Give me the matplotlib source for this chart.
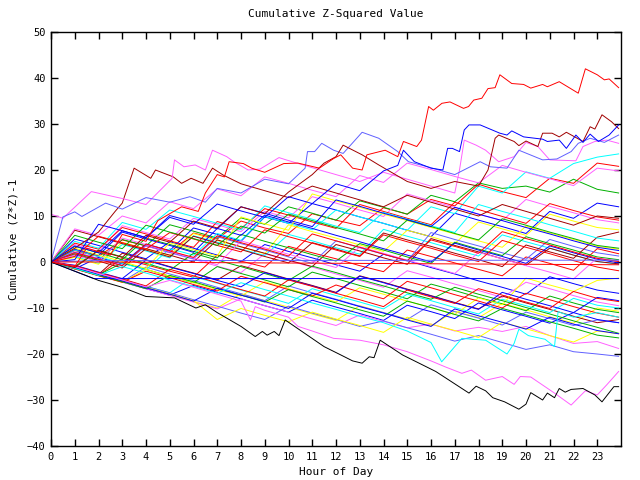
import matplotlib
matplotlib.use("Agg")
import matplotlib.pyplot as plt

# hourly sample grid used by the bulk of the runs
hours = list(range(24)) + [23.9]

red_runs = [
    [0, 2.5, 1.2, 4.8, 3.5, 2.1, 6.3, 5.0, 8.9, 7.4, 6.2, 10.5, 9.1, 7.9, 11.8, 10.4, 13.6, 12.2, 16.9, 15.3, 14.0, 18.2, 17.1, 21.5, 20.8],
    [0, -1.4, -2.9, 0.8, -0.6, -2.0, -3.3, 1.5, 0.2, -1.1, 3.4, 2.0, 0.7, -0.8, -2.1, 2.6, 1.2, -0.2, -1.6, -3.0, 1.1, -0.3, -1.8, 2.9, 1.8],
    [0, 4.1, 2.8, 7.5, 6.1, 4.6, 3.2, 8.8, 7.3, 11.6, 10.2, 8.7, 7.3, 12.5, 11.0, 9.5, 8.1, 13.0, 11.4, 9.9, 8.4, 12.7, 11.2, 9.8, 9.1],
    [0, -1.5, -3.0, -4.4, -2.0, -3.4, -4.9, -6.3, -3.1, -4.5, -6.0, -7.4, -5.0, -6.5, -8.0, -4.2, -5.6, -7.1, -8.5, -10.0, -6.8, -8.2, -9.7, -11.1, -12.0],
    [0, 1.2, 5.6, 4.2, 2.8, 6.4, 5.0, 3.6, 2.2, 7.0, 5.5, 4.1, 2.6, 1.2, 5.9, 4.4, 3.0, 1.5, 0.1, 4.7, 3.2, 1.8, 0.3, -1.1, -1.9],
    [0, -0.8, -2.3, -3.7, -5.2, -1.6, -3.0, -4.5, -6.0, -7.4, -3.9, -5.3, -6.8, -8.2, -9.7, -6.1, -7.6, -9.0, -5.8, -7.2, -8.7, -10.1, -6.4, -7.9, -8.6],
    [0, 2.0, 0.6, -0.8, 3.9, 2.4, 1.0, 5.7, 4.2, 2.8, 1.3, 6.1, 4.6, 3.2, 1.7, 0.3, 4.8, 3.4, 1.9, 6.6, 5.1, 3.7, 2.2, 0.8, 0.1],
]
green_runs = [
    [0, 1.8, 0.4, 4.9, 3.5, 8.1, 6.7, 5.2, 9.6, 8.2, 12.0, 10.6, 9.1, 13.3, 11.9, 10.4, 14.5, 13.1, 17.2, 16.0, 16.5, 15.2, 18.0, 15.8, 15.0],
    [0, -1.3, -2.8, -0.2, -1.6, -3.1, -4.5, -1.0, -2.5, -3.9, -5.4, -2.2, -3.6, -5.1, -6.5, -8.0, -4.8, -6.2, -7.7, -9.1, -10.6, -7.4, -8.9, -10.3, -11.0],
    [0, 3.4, 2.0, 0.5, 5.2, 3.8, 2.3, 0.9, 6.0, 4.5, 3.1, 1.6, 0.2, 4.0, 2.6, 1.1, -0.3, 4.3, 2.8, 1.4, 5.5, 4.0, 2.6, 1.1, 0.5],
    [0, -1.0, 2.6, 1.1, -0.3, -1.8, 1.9, 0.4, -1.0, -2.5, -4.0, -0.9, -2.3, -3.8, -5.2, -6.7, -8.1, -5.5, -7.0, -8.4, -9.9, -11.3, -12.8, -14.2, -15.5],
    [0, 5.8, 4.3, 2.9, 8.0, 6.5, 5.1, 3.6, 7.8, 6.3, 10.4, 9.0, 7.5, 6.1, 4.6, 9.1, 7.7, 6.2, 4.8, 9.4, 8.0, 6.5, 5.1, 3.6, 3.0],
    [0, -1.4, -2.9, -4.3, -5.8, -2.9, -4.3, -5.8, -7.2, -8.7, -6.0, -7.5, -8.9, -10.4, -11.8, -8.5, -9.9, -11.4, -12.8, -10.1, -11.5, -13.0, -14.4, -15.9, -16.5],
]
blue_runs = [
    [0, 5.0, 3.6, 2.1, 0.7, 4.4, 3.0, 1.5, 0.1, 3.8, 2.3, 0.9, -0.6, -2.0, 1.7, 0.3, -1.2, -2.6, -4.1, -5.5, -7.0, -3.2, -4.7, -6.1, -6.8],
    [0, -1.5, 1.0, -0.4, 3.9, 2.5, 7.4, 6.0, 4.5, 9.8, 8.4, 12.7, 11.3, 9.8, 8.4, 6.9, 5.5, 10.6, 9.1, 7.7, 6.2, 11.0, 9.5, 12.8, 12.0],
    [0, -1.4, -2.9, -4.3, -5.8, -7.2, -5.1, -6.6, -8.0, -9.5, -10.9, -8.3, -9.8, -11.2, -12.7, -9.4, -10.8, -12.3, -8.9, -10.4, -11.8, -13.3, -11.0, -12.5, -13.2],
    [0, 2.8, 1.4, 6.5, 5.0, 3.6, 2.1, 7.3, 5.8, 10.2, 8.7, 7.3, 5.8, 4.4, 2.9, 1.5, 0.0, 4.1, 2.6, 1.2, -0.3, 3.5, 2.0, 0.6, -0.2],
    [0, -0.7, -2.2, -3.6, 0.4, -1.1, -2.5, -4.0, -5.4, -2.3, -3.8, -5.2, -6.7, -3.1, -4.5, -6.0, -7.4, -8.9, -10.3, -6.6, -8.1, -9.5, -11.0, -7.7, -8.4],
    [0, 0.5, 8.2, 6.8, 5.3, 10.1, 8.7, 7.2, 12.0, 10.6, 9.1, 7.7, 13.5, 12.1, 10.6, 9.2, 7.7, 11.9, 10.4, 9.0, 7.5, 6.1, 4.6, 3.2, 2.5],
    [0, -1.2, -2.7, -4.1, -5.6, -7.0, -8.5, -5.7, -7.2, -8.6, -10.1, -6.8, -8.2, -9.7, -11.1, -12.6, -14.0, -10.2, -11.7, -13.1, -14.6, -12.0, -13.5, -14.9, -15.6],
]
pink_runs = [
    [0, 2.2, 0.8, -0.7, 3.5, 2.0, 0.6, -0.9, -2.3, 1.8, 0.3, -1.1, -2.6, -4.0, -5.5, -1.9, -3.3, -4.8, -6.2, -7.7, -4.4, -5.8, -7.3, -8.7, -9.5],
    [0, 3.8, 2.3, 7.9, 6.4, 5.0, 9.5, 8.1, 6.6, 11.0, 9.6, 14.2, 12.8, 11.3, 9.9, 14.8, 13.3, 11.9, 10.4, 9.0, 13.6, 12.1, 10.7, 9.2, 8.5],
    [0, -1.5, -2.9, -4.4, -5.8, -7.3, -8.7, -10.2, -8.0, -9.5, -10.9, -12.4, -13.8, -11.5, -12.9, -14.3, -13.5, -15.0, -14.2, -15.1, -14.0, -16.0, -17.7, -17.3, -18.8],
    [0, 1.5, 0.1, 5.2, 3.8, 2.3, 0.9, -0.6, 4.6, 3.1, 1.7, 0.2, -1.2, 3.3, 1.9, 0.4, -1.0, -2.5, 2.1, 0.7, -0.8, -2.2, -3.7, 0.9, 0.2],
    [0, 7.2, 5.8, 10.0, 8.5, 13.1, 11.6, 15.9, 14.4, 18.5, 17.1, 15.6, 14.2, 18.8, 17.3, 21.5, 20.1, 18.6, 17.2, 21.0, 19.5, 18.1, 16.6, 20.4, 19.8],
]
cyan_runs = [
    [0, 1.2, -0.3, 3.8, 2.4, 0.9, 5.7, 4.3, 2.8, 1.4, 6.0, 4.6, 3.1, 1.7, 7.1, 5.6, 4.2, 2.7, 1.3, 5.9, 4.4, 3.0, 1.5, 0.1, -0.5],
    [0, 2.6, 1.2, -0.3, -1.7, 2.9, 1.5, 6.2, 4.7, 9.9, 8.4, 7.0, 11.3, 9.8, 8.4, 6.9, 12.0, 10.5, 16.5, 15.0, 19.6, 18.2, 21.4, 22.8, 23.5],
    [0, -0.9, -2.4, -3.8, -5.3, -6.7, -3.2, -4.6, -6.1, -7.5, -9.0, -5.8, -7.3, -8.7, -10.2, -7.0, -8.4, -9.9, -11.3, -8.1, -9.5, -11.0, -7.9, -9.4, -10.0],
    [0, 4.5, 3.0, 8.6, 7.1, 11.3, 9.9, 8.4, 7.0, 12.2, 10.7, 9.3, 7.8, 6.4, 10.8, 9.3, 7.9, 6.4, 12.5, 11.0, 9.6, 8.1, 6.7, 5.2, 4.6],
]
yellow_runs = [
    [0, -1.3, -2.8, -4.2, -5.7, -7.1, -8.6, -10.0, -6.9, -8.4, -9.8, -11.3, -12.7, -9.5, -11.0, -12.4, -13.9, -10.7, -12.1, -9.0, -10.4, -11.9, -13.3, -10.0, -10.7],
    [0, 1.0, -0.5, 4.3, 2.8, 1.4, 6.2, 4.7, 3.3, 1.8, 8.1, 6.6, 5.2, 3.7, 2.3, 6.9, 5.5, 4.0, 8.7, 7.2, 5.8, 10.4, 8.9, 7.5, 7.0],
    [0, -1.5, -2.9, -4.4, -1.6, -3.1, -4.5, -6.0, -7.4, -4.3, -5.8, -7.2, -8.7, -5.6, -7.0, -8.5, -9.9, -11.4, -7.8, -9.3, -3.5, -5.0, -6.4, -4.0, -3.5],
    [0, 3.0, 1.5, 0.1, -1.4, 4.2, 2.7, 1.3, 9.8, 8.3, 6.9, 14.8, 13.3, 11.9, 10.4, 9.0, 7.5, 6.1, 4.6, 3.2, 7.8, 6.3, 4.9, 3.4, 2.8],
    [0, -1.1, -2.6, -4.0, -5.5, -6.9, -8.4, -12.5, -10.1, -11.6, -13.0, -10.9, -12.4, -13.8, -15.3, -12.0, -13.5, -14.9, -16.4, -13.1, -14.5, -16.0, -17.4, -15.0, -15.6],
]
darkred_runs = [
    [0, -1.2, -2.7, 1.9, 0.5, -1.0, -2.4, -3.9, -0.8, -2.2, -3.7, -5.1, -6.6, -3.0, -4.4, -5.9, -7.3, -8.8, -10.2, -7.4, -8.9, -10.3, -11.8, -13.2, -12.5],
    [0, 1.6, 0.2, -1.3, 2.9, 1.5, 0.0, 4.8, 3.3, 1.9, 0.4, -1.0, 3.8, 2.4, 0.9, -0.5, 5.1, 3.6, 2.2, 0.7, -0.7, 3.0, 1.5, 0.1, -0.4],
    [0, 6.9, 5.5, 4.0, 2.6, 1.1, 5.6, 4.1, 2.7, 1.2, -0.2, 4.2, 2.8, 1.3, 6.3, 4.8, 3.4, 1.9, 0.5, -1.0, 3.7, 2.2, 0.8, 5.4, 6.5],
]
peri_runs = [
    [0, -1.4, -2.9, -4.3, -1.1, -2.6, -4.0, -5.5, -6.9, -8.4, -5.2, -6.7, -8.1, -9.6, -11.0, -12.5, -9.3, -10.8, -12.2, -13.7, -10.9, -12.3, -13.8, -12.6, -13.2],
    [0, 2.1, 0.7, -0.8, 3.6, 2.1, 0.7, 5.5, 4.0, 2.6, 1.1, -0.3, 4.6, 3.1, 1.7, 0.2, 6.4, 4.9, 3.5, 2.0, 0.6, 4.9, 3.4, 2.0, 1.3],
    [0, -0.9, -2.4, -3.8, -5.3, -6.7, -8.2, -9.6, -11.1, -12.5, -9.6, -11.1, -12.5, -14.0, -12.8, -14.3, -15.7, -17.2, -16.0, -17.5, -19.0, -18.0, -19.5, -20.0, -20.5],
]

# outlying runs read at their turning points
top_red_t = [0, 1, 1.5, 2.5, 3, 4, 4.5, 5.5, 6.2, 6.5, 7, 7.3, 7.5, 8.1, 8.45, 9.0, 9.8, 10.4, 11.3, 11.9, 12.2, 12.7, 13.1, 13.3, 14.07, 14.6,
             14.84, 15.4, 15.6, 15.9, 16.1, 16.46, 16.8, 17.37, 17.58, 17.8, 18.14, 18.4, 18.7, 18.9, 19.4, 19.9, 20.2, 20.7, 20.9, 21.4,
             22.2, 22.5, 23.0, 23.3, 23.5, 23.9]
top_red_v = [0, -1, 3, 1.5, 6, 4.5, 9, 12, 11, 15, 19, 18.5, 21.8, 21.4, 20.4, 19.5, 21.4, 21.5, 20.4, 22.5, 23.3, 20.4, 20.0, 23.3, 24.3, 22.9,
             26.2, 25.1, 26.5, 33.8, 33.0, 34.5, 34.8, 33.4, 33.8, 35.2, 35.6, 37.7, 37.9, 40.7, 38.8, 38.6, 37.8, 38.6, 38.1, 39.2,
             36.7, 42.0, 40.7, 39.6, 39.8, 37.9]
top_blue_t = [0, 1, 2, 3, 4, 5, 6, 7, 8, 9, 10, 11, 12, 13, 14, 14.6, 14.84, 15.3, 16.0, 16.5, 16.7, 16.9, 17.2, 17.4, 17.6, 18.07,
              18.9, 19.2, 19.4, 19.9, 20.7, 20.9, 21.4, 21.7, 22.1, 22.4, 22.7, 23.05, 23.5, 23.9]
top_blue_v = [0, 3.5, 2.0, 6.8, 5.3, 9.7, 8.2, 12.6, 11.1, 9.7, 14.2, 12.7, 17.0, 15.5, 19.8, 21.0, 24.3, 21.8, 20.4, 20.0, 24.7, 24.7,
              24.0, 28.7, 29.8, 29.8, 28.0, 27.6, 28.5, 27.2, 26.7, 26.2, 26.5, 24.7, 27.6, 26.0, 27.8, 26.2, 27.6, 29.8]
peri_top_t = [0, 0.5, 1, 1.3, 2.3, 3, 4, 5, 5.85, 6.5, 7, 8, 9, 10, 10.7, 10.8, 11.1, 11.4, 11.9, 12.3, 13.1, 13.8, 14.6, 15.05, 16,
              17, 18.07, 18.5, 19.2, 19.7, 20.7, 21.3, 21.9, 22.2, 22.7, 23.3, 23.9]
peri_top_v = [0, 9.8, 10.9, 9.9, 12.8, 11.5, 14.0, 13.0, 14.2, 13.0, 16.0, 15.0, 18.0, 17.0, 20.4, 24.0, 24.0, 25.8, 24.3, 23.6, 28.2,
              26.9, 24.0, 21.8, 20.5, 19.0, 21.8, 20.7, 20.4, 24.3, 22.2, 22.4, 24.0, 25.8, 26.9, 26.0, 27.6]
pink_top_t = [0, 0.5, 1.7, 3.0, 4.0, 5.1, 5.2, 5.6, 6.07, 6.5, 6.8, 7.4, 7.7, 8.3, 8.8, 9.6, 9.9, 11, 12, 13, 14, 15, 16, 17, 17.2,
              17.4, 17.9, 18.3, 18.85, 19.5, 20.0, 20.5, 21.0, 22.1, 22.4, 22.9, 23.4, 23.9]
pink_top_v = [10.4, 9.5, 15.3, 13.8, 12.5, 18.2, 22.2, 20.7, 21.1, 20.0, 24.3, 22.9, 21.8, 20.0, 20.2, 22.7, 22.2, 20.5, 19.0, 17.5,
              19.5, 18.0, 16.5, 15.0, 20.0, 26.5, 25.4, 24.3, 21.8, 22.9, 26.0, 25.1, 22.2, 22.0, 25.1, 26.2, 26.5, 25.8]
darkred_top_t = [0, 1, 2, 3, 4, 5, 6, 7, 8, 9, 10, 11, 11.5, 12.0, 12.3, 13.1, 13.8, 14.5, 15, 16, 17, 18, 18.4, 18.7, 18.85, 19.5,
                 19.7, 20.0, 20.5, 20.7, 21.1, 21.4, 21.7, 22.4, 22.7, 22.9, 23.2, 23.6, 23.9]
darkred_top_v = [0, -1.2, 2.5, 1.0, 5.8, 4.3, 8.9, 7.4, 12.0, 10.5, 15.2, 19.0, 21.5, 22.9, 25.4, 23.3, 21.1, 19.0, 17.5, 16.0, 17.5,
                 16.5, 20.0, 26.9, 27.6, 26.2, 25.3, 26.3, 25.1, 28.0, 28.0, 27.2, 28.2, 26.2, 29.4, 28.9, 32.0, 30.5, 29.0]
darkred_peak_t = [0, 1, 2, 2.7, 3.0, 3.5, 4.2, 4.4, 5.15, 5.5, 5.9, 6.4, 6.8, 7.25, 8, 9, 10, 11, 12, 13, 14, 15, 16, 17, 18, 19,
                  20, 21, 22, 23, 23.9]
darkred_peak_v = [0, 3.0, 6.5, 11.0, 12.8, 20.4, 18.2, 20.0, 18.5, 17.1, 18.2, 17.1, 20.4, 18.9, 17.0, 15.5, 14.0, 16.5, 15.0, 13.5,
                  12.0, 14.5, 13.0, 11.5, 10.0, 12.5, 11.0, 9.5, 8.0, 10.0, 9.5]
cyan_low_t = [0, 1, 2, 3, 4, 5, 6, 7, 8, 9, 10, 11, 12, 13, 14, 15, 16, 16.45, 17.3, 18.3, 19.2, 19.5, 19.7, 20.1, 20.8, 21.2,
              21.35, 22, 23, 23.9]
cyan_low_v = [0, -1.4, -2.9, -1.0, -2.4, -3.9, -5.3, -6.8, -4.5, -6.0, -7.4, -8.9, -10.3, -11.8, -13.2, -15.0, -17.5, -21.7, -16.6,
              -17.0, -20.0, -17.7, -14.6, -16.0, -16.8, -18.4, -10.8, -12.0, -11.0, -12.0]
pink_low_t = [0, 1, 2, 3, 4, 5, 6, 7, 8, 8.4, 8.6, 9, 10, 10.4, 11, 11.9, 13, 14, 15, 16, 16.6, 17.3, 17.7, 18.3, 19.0, 19.5, 19.76,
              20.2, 21.2, 21.9, 22.5, 23.0, 23.4, 23.9]
pink_low_v = [0, -1.0, -2.5, -3.9, -5.4, -4.0, -5.5, -7.0, -8.5, -12.6, -9.7, -10.5, -12.0, -14.0, -15.0, -16.6, -17.0, -18.0,
              -19.5, -21.5, -22.8, -24.2, -23.5, -25.7, -24.9, -26.6, -24.9, -25.0, -28.5, -31.1, -28.0, -28.9, -26.7, -23.8]
black_t = [0, 1, 2, 3, 4, 5.2, 6.1, 6.5, 7, 8, 8.6, 8.9, 9.1, 9.4, 9.6, 9.86, 11.5, 12.2, 12.7, 13.1, 13.4, 13.6, 13.86, 14.8, 16.2,
           17.6, 17.9, 18.3, 18.6, 19.1, 19.7, 20.0, 20.2, 20.7, 20.9, 21.2, 21.4, 21.65, 21.9, 22.4, 22.9, 23.2, 23.7, 23.9]
black_v = [0, -2.0, -4.0, -5.5, -7.5, -7.8, -10.0, -9.3, -11.0, -14.0, -16.2, -15.1, -15.9, -15.1, -16.0, -12.6, -18.4, -20.2,
           -21.5, -22.0, -20.6, -20.8, -17.0, -20.2, -23.8, -28.5, -27.0, -28.0, -29.5, -30.4, -32.0, -30.9, -28.4, -30.0, -28.5,
           -29.5, -27.5, -28.3, -27.7, -27.5, -28.9, -30.4, -27.1, -27.1]

# near-flat runs
flat_t = [0, 1.8, 23.9]
flat_red = [0, 0.0, -0.6]
flat_peri = [0, 0.3, 0.4]
flat_blue = [0, -3.6, -3.6]

col = {
    "red": "#ff0000", "green": "#00b000", "blue": "#0000ff", "pink": "#ff60ff",
    "cyan": "#00ffff", "yellow": "#ffff00", "darkred": "#a00000", "peri": "#6060ff",
    "black": "#000000",
}

fig = plt.figure(figsize=(6.4, 4.8), dpi=100)
ax = fig.add_axes([51 / 640, 1 - 446 / 480, 570 / 640, 414 / 480])

groups = [("red", red_runs), ("green", green_runs), ("blue", blue_runs), ("pink", pink_runs),
          ("cyan", cyan_runs), ("yellow", yellow_runs), ("darkred", darkred_runs), ("peri", peri_runs)]
lw = 0.7
most = max(len(g[1]) for g in groups)
for i in range(most):
    for name, runs in groups:
        if i < len(runs):
            ax.plot(hours, runs[i], color=col[name], lw=lw)

ax.plot(flat_t, flat_peri, color=col["peri"], lw=lw)
ax.plot(flat_t, flat_red, color=col["red"], lw=lw)
ax.plot(flat_t, flat_blue, color=col["blue"], lw=lw)
ax.plot(cyan_low_t, cyan_low_v, color=col["cyan"], lw=lw)
ax.plot(pink_low_t, pink_low_v, color=col["pink"], lw=lw)
ax.plot(black_t, black_v, color=col["black"], lw=lw)
ax.plot(darkred_peak_t, darkred_peak_v, color=col["darkred"], lw=lw)
ax.plot(pink_top_t, pink_top_v, color=col["pink"], lw=lw)
ax.plot(peri_top_t, peri_top_v, color=col["peri"], lw=lw)
ax.plot(darkred_top_t, darkred_top_v, color=col["darkred"], lw=lw)
ax.plot(top_blue_t, top_blue_v, color=col["blue"], lw=lw)
ax.plot(top_red_t, top_red_v, color=col["red"], lw=lw)

ax.set_xlim(0, 24)
ax.set_ylim(-40, 50)
ax.set_xticks(range(24))
ax.set_yticks(range(-40, 51, 10))

font = "DejaVu Sans Mono"
ax.tick_params(direction="in", length=5, width=1, top=True, right=True, labelsize=7.5, pad=4)
for lab in ax.get_xticklabels() + ax.get_yticklabels():
    lab.set_family(font)
for s in ax.spines.values():
    s.set_linewidth(1)

ax.set_title("Cumulative Z-Squared Value", family=font, fontsize=8, pad=11)
ax.set_xlabel("Hour of Day", family=font, fontsize=8, labelpad=4)
ax.set_ylabel("Cumulative (Z*Z)-1", family=font, fontsize=8, labelpad=6)

fig.savefig("out.png", dpi=100)
